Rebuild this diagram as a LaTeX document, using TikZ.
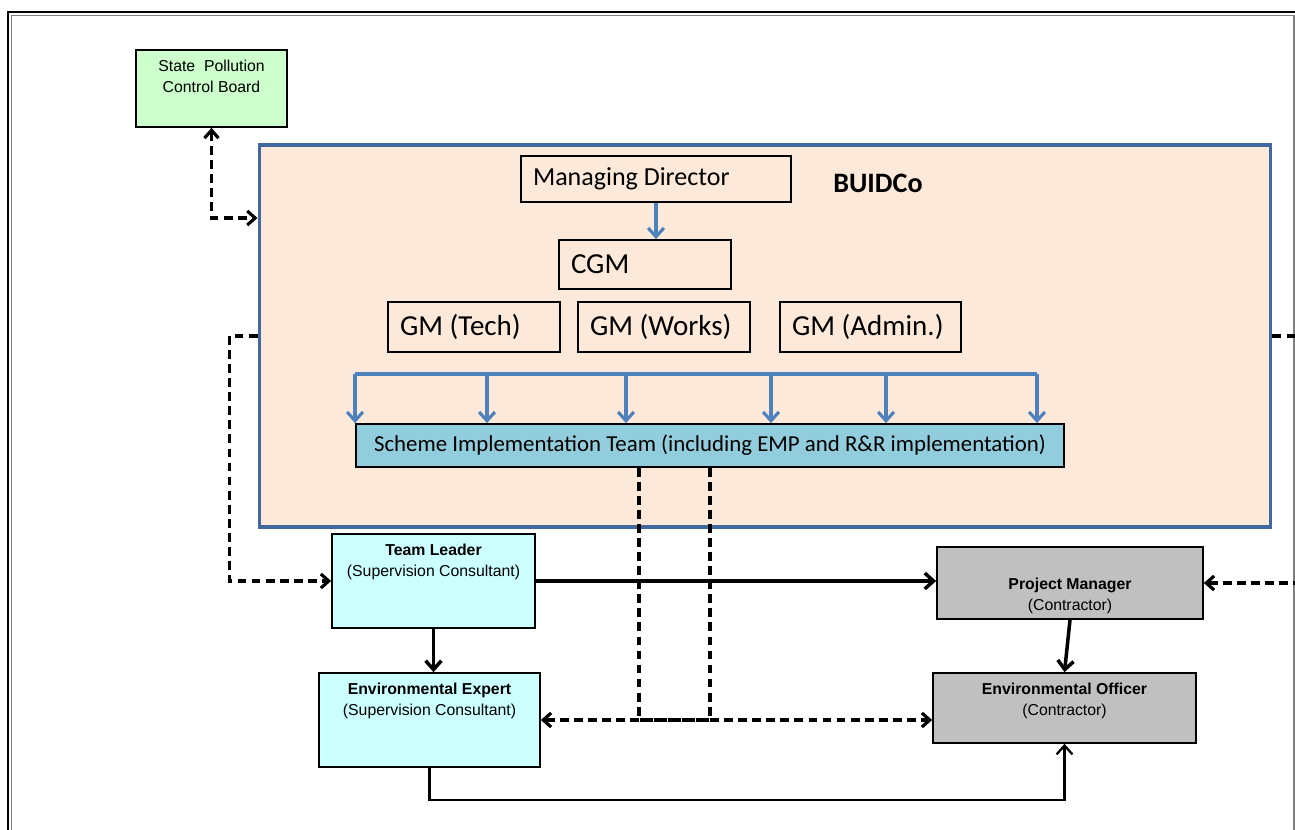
\documentclass[tikz,border=0pt]{standalone}
\usepackage{fontspec}
\setmainfont{Carlito}
\newfontfamily\arialfont{Liberation Sans}
\usetikzlibrary{arrows.meta}
\definecolor{peach}{RGB}{253,233,217}
\definecolor{frameblue}{RGB}{65,105,160}
\definecolor{linkblue}{RGB}{79,129,189}
\definecolor{teamblue}{RGB}{146,205,221}
\definecolor{boardgreen}{RGB}{204,255,204}
\definecolor{consultcyan}{RGB}{204,255,255}
\definecolor{contractgray}{RGB}{192,192,192}

\begin{document}
\begin{tikzpicture}[x=0.02cm, y=-0.02cm,
  box/.style={draw, line width=1pt, inner xsep=0.24cm, inner ysep=0pt, align=flush left},
  smalltext/.style={font=\arialfont\fontsize{9}{12}\selectfont, align=center, inner ysep=6pt},
  bluearrow/.style={draw=linkblue, line width=1.8pt, -{Straight Barb[length=5pt, width=9pt]}},
  dashline/.style={line width=1.8pt, dash pattern=on 5pt off 3pt},
  tipend/.style={-{Straight Barb[length=4.5pt, width=8pt]}},
  bothend/.style={{Straight Barb[length=4.5pt, width=8pt]}-{Straight Barb[length=4.5pt, width=8pt]}},
  solidarrow/.style={line width=2pt, -{Straight Barb[length=5pt, width=9pt]}}]
\useasboundingbox (0,0) rectangle (1295,830);
\clip (0,0) rectangle (1295,830);
\draw[line width=1.3pt] (8,830) -- (8,12) -- (1295,12);
\draw[gray, line width=0.9pt] (11.5,830) -- (11.5,15.5) -- (1294,15.5) -- (1294,830);

\node[draw=frameblue, fill=peach, line width=1.8pt, minimum width=20.24cm, minimum height=7.64cm] (buidco) at (765,336) {};
\node[font=\bfseries\fontsize{16}{19}\selectfont] (buidcotext) at (878,183) {BUIDCo};

\node[box, text width=4.92cm, minimum height=0.92cm, font=\fontsize{14.8}{17}\selectfont] (md) at (656,179) {Managing Director};
\node[box, text width=2.96cm, minimum height=0.98cm, font=\fontsize{16.5}{19}\selectfont] (cgm) at (645,264.5) {CGM};
\node[box, text width=2.96cm, minimum height=1cm, font=\fontsize{16.5}{19}\selectfont] (gmtech) at (474,327) {GM (Tech)};
\node[box, text width=2.96cm, minimum height=1cm, font=\fontsize{16.5}{19}\selectfont] (gmworks) at (664,327) {GM (Works)};
\node[box, text width=3.14cm, minimum height=1cm, font=\fontsize{16.5}{19}\selectfont] (gmadmin) at (870.5,327) {GM (Admin.)};
\node[box, fill=teamblue, align=center, minimum width=14.16cm, minimum height=0.86cm, font=\fontsize{13}{15}\selectfont] (sit) at (710,445.5) {Scheme Implementation Team (including EMP and R\&R implementation)};

\draw[bluearrow] (md.south) -- (md.south |- cgm.north);
\coordinate (busleft) at (355,374);
\coordinate (busright) at (1037,374);
\draw[linkblue, line width=1.8pt] (busleft) -- (busright);
\foreach \x in {355,487,626,771,886,1037}
  \draw[bluearrow] (\x,374) -- (sit.north -| \x,0);

\node[box, fill=boardgreen, minimum width=3.02cm, minimum height=1.54cm] (spcb) at (211.5,88.5) {};
\node[smalltext, below] (spcbtext) at (spcb.north) {State\ \ Pollution\\Control Board};

\node[box, fill=consultcyan, minimum width=4.06cm, minimum height=1.88cm] (tl) at (433.5,581) {};
\node[smalltext, below] (tltext) at (tl.north) {\textbf{Team Leader}\\(Supervision Consultant)};
\node[box, fill=consultcyan, minimum width=4.42cm, minimum height=1.88cm] (ee) at (429.5,720) {};
\node[smalltext, below] (eetext) at (ee.north) {\textbf{Environmental Expert}\\(Supervision Consultant)};
\node[box, fill=contractgray, minimum width=5.32cm, minimum height=1.44cm] (pm) at (1070,583) {};
\node[smalltext, below=12pt] (pmtext) at (pm.north) {\textbf{Project Manager}\\(Contractor)};
\node[box, fill=contractgray, minimum width=5.26cm, minimum height=1.4cm] (eo) at (1064.5,708) {};
\node[smalltext, below] (eotext) at (eo.north) {\textbf{Environmental Officer}\\(Contractor)};

\draw[dashline, bothend] (spcb.south) |- (buidco.west |- 0,218);
\draw[dashline, tipend] (buidco.west) -- ++(-28,0) |- (tl.west);
\draw[dashline, tipend] (buidco.east) -- ++(60,0) |- (pm.east);
\draw[dashline, tipend] (sit.south -| 639,0) |- (eo.west |- ee.east);
\draw[dashline, tipend] (sit.south -| 710,0) |- (ee.east);

\draw[solidarrow] (tl.east) -- (pm.west |- tl.east);
\draw[solidarrow] (tl.south) -- (ee.north -| tl.south);
\draw[solidarrow] (pm.south) -- (eo.north);
\draw[line width=1.3pt, -{Straight Barb[length=5pt, width=9pt]}] (ee.south) -- ++(0,32) -| (eo.south);
\end{tikzpicture}
\end{document}
